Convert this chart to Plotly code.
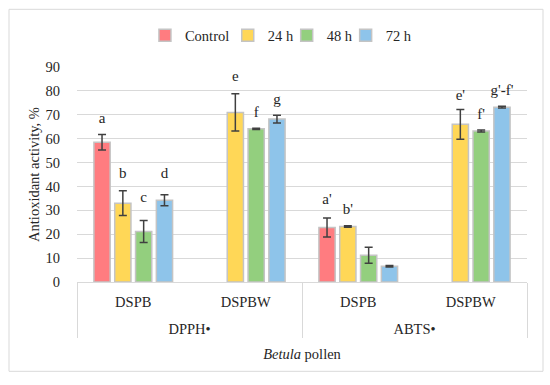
import plotly.graph_objects as go

# ---- data ----
outer = ["DPPH•", "DPPH•", "ABTS•", "ABTS•"]
inner = ["DSPB", "DSPBW", "DSPB", "DSPBW"]
series_names = ["Control", "24 h", "48 h", "72 h"]

control = [58.5, None, 22.8, None]
control_err = [3.2, 0, 4.0, 0]
h24 = [33.0, 71.0, 23.2, 66.0]
h24_err = [5.2, 7.8, 0.3, 6.2]
h48 = [21.1, 64.1, 11.2, 63.2]
h48_err = [4.6, 0.3, 3.3, 0.4]
h72 = [34.2, 68.2, 6.6, 73.2]
h72_err = [2.3, 1.6, 0.3, 0.4]

control_letters = ["a", "", "a'", ""]
control_letter_y = [68.2, None, 34.3, None]
h24_letters = ["b", "e", "b'", "e'"]
h24_letter_y = [44.9, 85.7, 29.9, 77.9]
h48_letters = ["c", "f", "", "f'"]
h48_letter_y = [35.0, 70.8, None, 69.6]
h72_letters = ["d", "g", "", "g'-f'"]
h72_letter_y = [44.9, 76.2, None, 79.7]

colors = ["#ff7c80", "#ffd757", "#93cf7e", "#8ec4ea"]

values = [control, h24, h48, h72]
errors = [control_err, h24_err, h48_err, h72_err]
letters = [control_letters, h24_letters, h48_letters, h72_letters]
letter_y = [control_letter_y, h24_letter_y, h48_letter_y, h72_letter_y]

FONT = "Liberation Serif"
TXT = "#262626"
FS = 14.5

# small invisible second line under the inner labels to widen the gap between label rows
SPACER = "<br><span style='font-size:1px'>\u00a0</span>"
inner_labels = [s + SPACER for s in inner]
xcats = [outer, inner_labels]

legend_ids = ["legend", "legend2", "legend3", "legend4"]
legend_x = [0.151, 0.335, 0.466, 0.597]

fig = go.Figure()
for i, name in enumerate(series_names):
    fig.add_trace(go.Bar(
        x=xcats, y=values[i], name=name, legend=legend_ids[i],
        marker=dict(color=colors[i], line=dict(color="#c4c4c4", width=1.5)),
        error_y=dict(type="data", array=errors[i], visible=True,
                     color="#404040", thickness=1.5, width=4),
        offsetgroup=str(i), hoverinfo="y+name",
    ))
for i, name in enumerate(series_names):
    fig.add_trace(go.Scatter(
        x=xcats, y=letter_y[i], text=letters[i], mode="text",
        textposition="middle center", showlegend=False, hoverinfo="skip",
        textfont=dict(family=FONT, size=15, color=TXT),
        offsetgroup=str(i),
    ))

legend_common = dict(orientation="h", xanchor="left", y=1.147, yanchor="middle",
                     font=dict(family=FONT, size=FS, color=TXT), itemwidth=30,
                     bgcolor="rgba(0,0,0,0)", borderwidth=0)

fig.update_layout(
    template="none",
    width=550, height=385,
    margin=dict(l=77, r=23, t=67, b=103, autoexpand=False),
    paper_bgcolor="white", plot_bgcolor="white",
    barmode="group", bargap=0.26, bargroupgap=0.22,
    scattermode="group", scattergap=0.26,
    font=dict(family=FONT, size=FS, color=TXT),
    showlegend=True,
    legend=dict(x=legend_x[0], **legend_common),
    legend2=dict(x=legend_x[1], **legend_common),
    legend3=dict(x=legend_x[2], **legend_common),
    legend4=dict(x=legend_x[3], **legend_common),
)
fig.update_yaxes(
    automargin=False,
    range=[0, 90], dtick=10, showgrid=True, gridcolor="#d9d9d9", gridwidth=1,
    zeroline=False, showline=False,
    ticks="outside", ticklen=13, tickcolor="rgba(0,0,0,0)",
    tickfont=dict(family=FONT, size=FS, color=TXT),
    title=dict(text="Antioxidant activity, %", standoff=2,
               font=dict(family=FONT, size=FS, color=TXT)),
)
fig.update_xaxes(
    automargin=False,
    type="multicategory", showline=True, linecolor="#d9d9d9", linewidth=1,
    showdividers=True, dividercolor="#d9d9d9", dividerwidth=1,
    showgrid=False, ticks="", ticklabelstandoff=7,
    tickfont=dict(family=FONT, size=FS, color=TXT),
    title=dict(text="<i>Betula</i> pollen", standoff=12,
               font=dict(family=FONT, size=FS, color=TXT)),
)
fig.add_shape(type="rect", xref="paper", yref="paper",
              x0=(9 - 77) / 450, x1=(543 - 77) / 450,
              y0=(281.7 - 371) / 215, y1=(281.7 - 9) / 215,
              line=dict(color="#d9d9d9", width=1), layer="below")

fig.write_html("out.html", config={"displayModeBar": False},
               post_script="document.body.style.margin='0';")
